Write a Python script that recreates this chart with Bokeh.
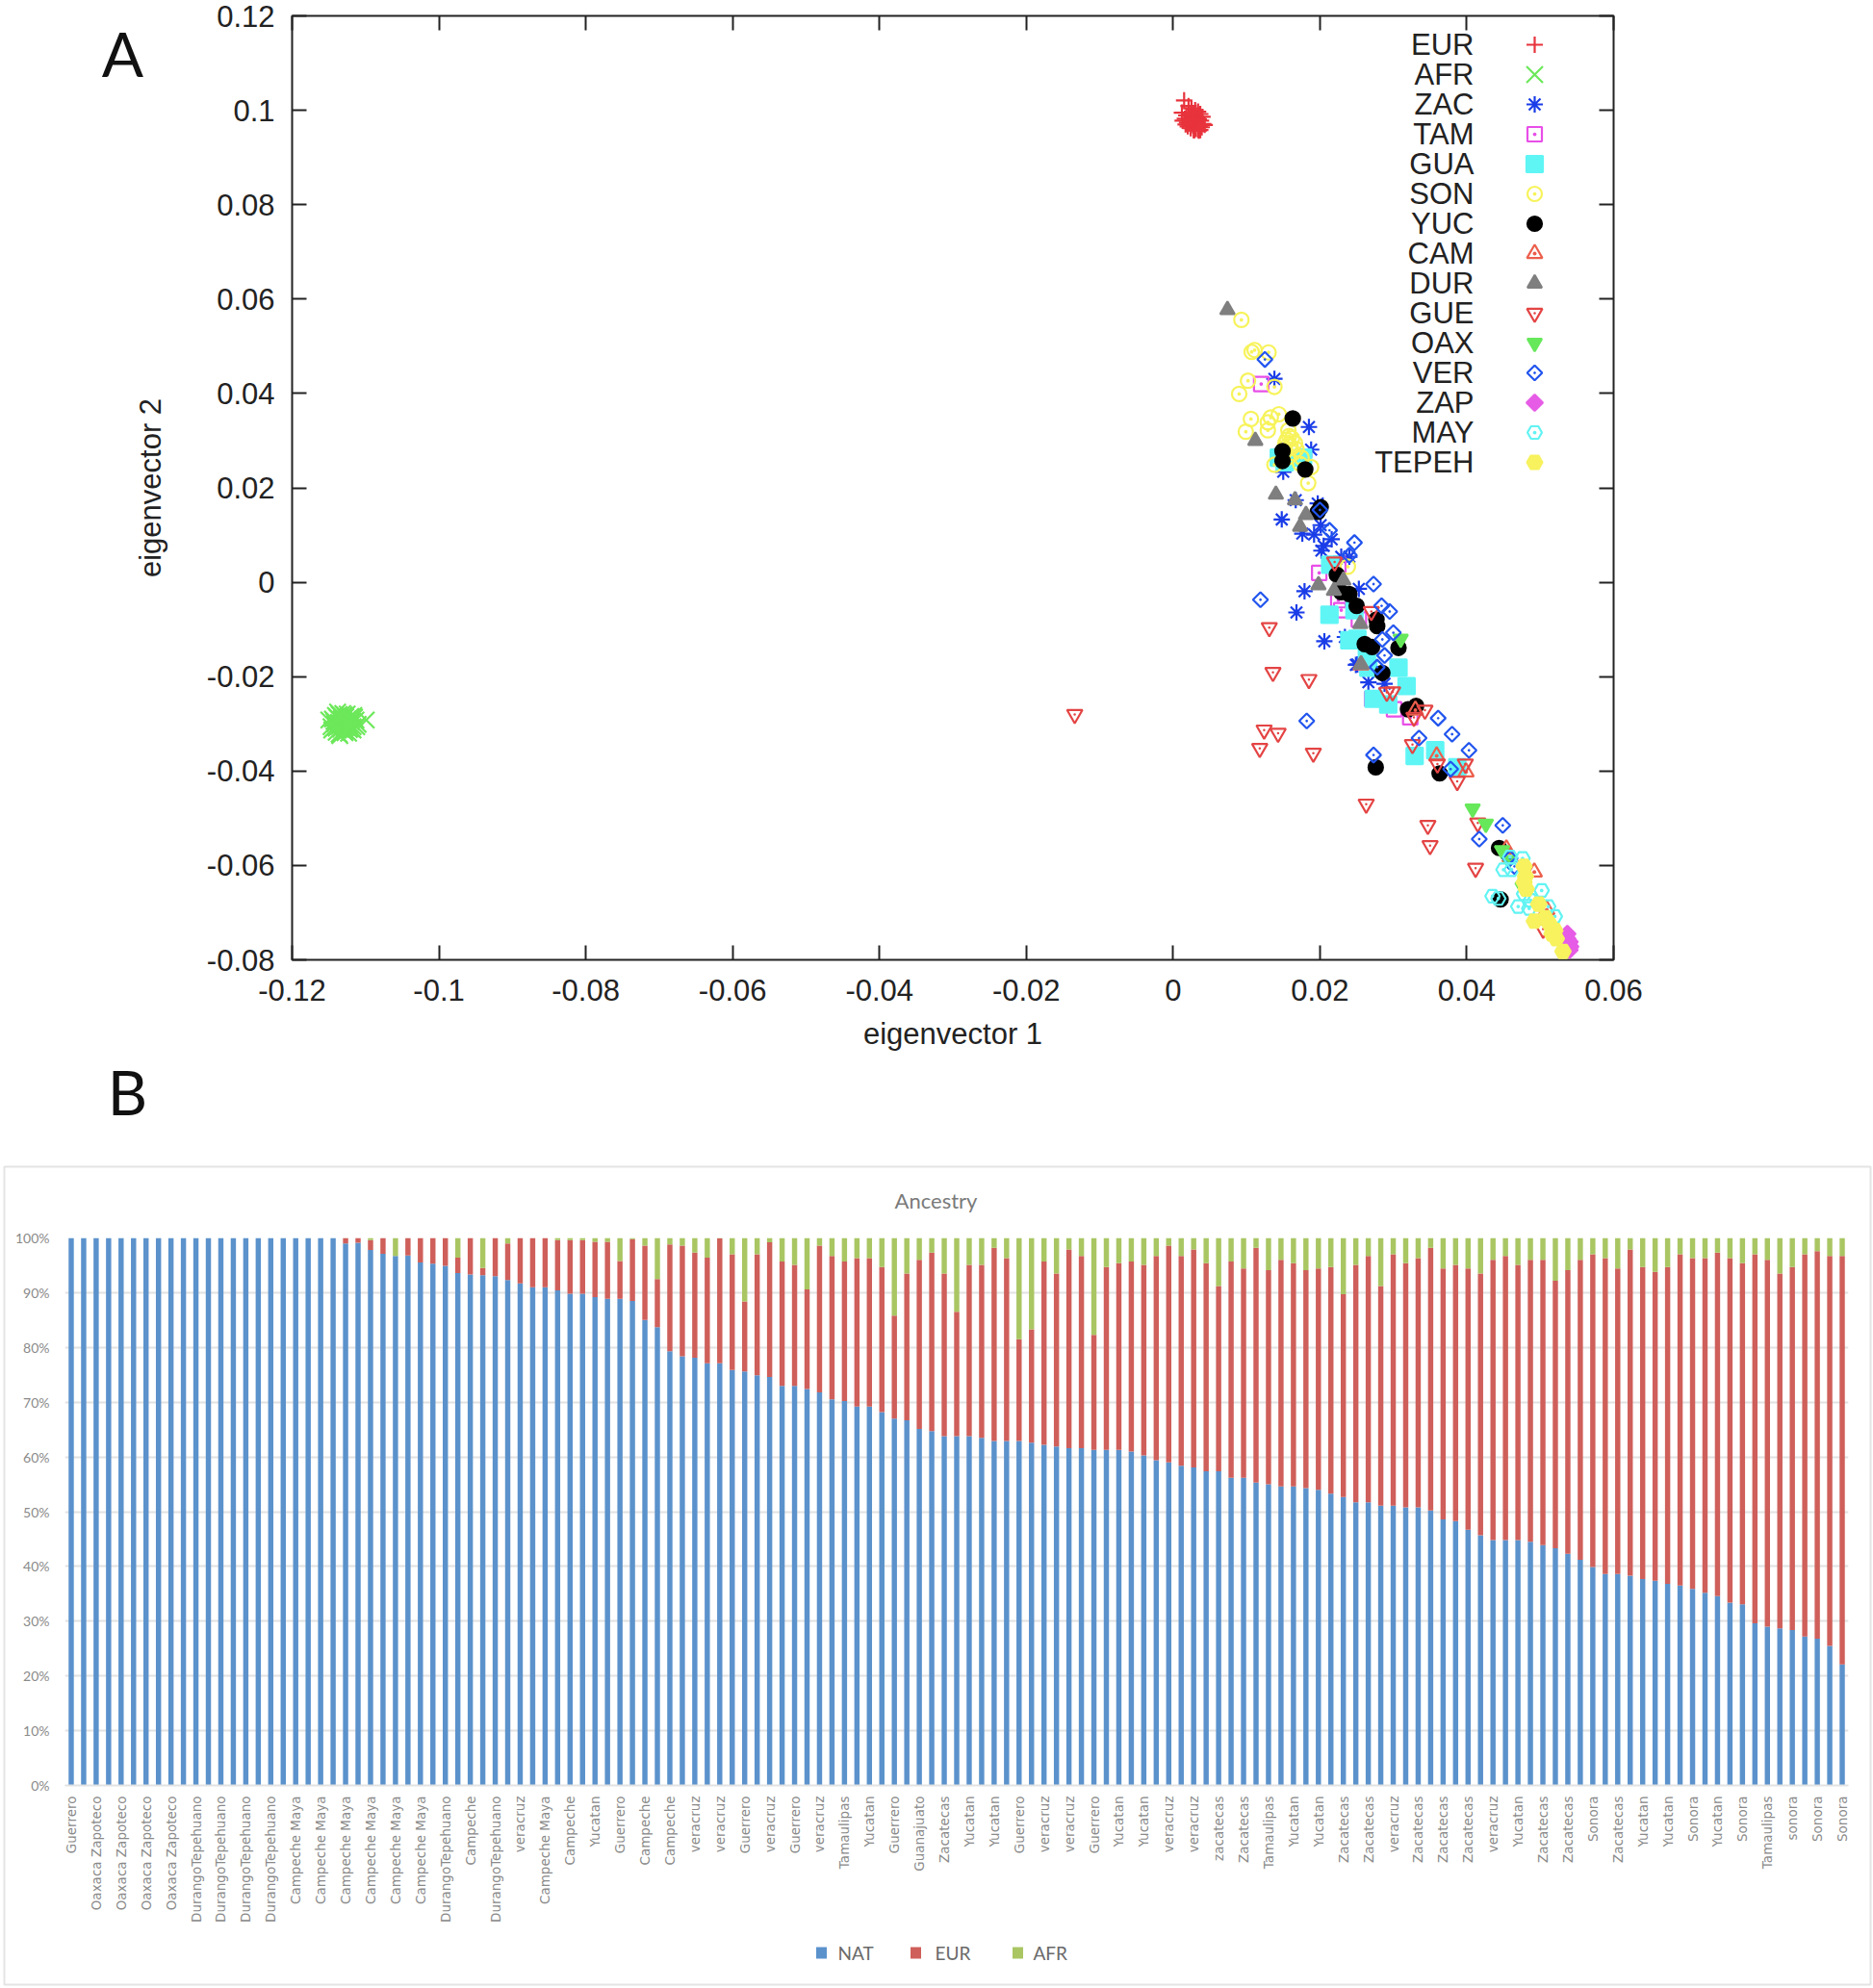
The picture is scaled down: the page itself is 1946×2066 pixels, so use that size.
from bokeh.plotting import figure
from bokeh.layouts import column
from bokeh.models import FixedTicker, LinearAxis, Label, Range1d
from bokeh.core.properties import value
from bokeh.embed import file_html
from bokeh.resources import INLINE
import math

# ---- panel A data (eigenvector 1, eigenvector 2) ----
eur_x = [.0015,.0021,.0012,.0018,.0025,.0030,.0016,.0022,.0028,.0034,.0013,.0019,.0026,.0031,.0037,.0017,.0023,.0029,.0035,.0040,.0020,.0027,.0033,.0038,.0024,.0030,.0036,.0041,.0022,.0028,.0034,.0039,.0026,.0032,.0037,.0043,.0029,.0035,.0031]
eur_y = [.1021,.1009,.0995,.0989,.1004,.1000,.0982,.0994,.0990,.0997,.0978,.0974,.0985,.0984,.0992,.0970,.0977,.0976,.0981,.0986,.0966,.0968,.0973,.0978,.0962,.0961,.0966,.0971,.0972,.0958,.0959,.0964,.0981,.0972,.0958,.0969,.0958,.0957,.0961]
afr_x = [-.1150,-.1146,-.1142,-.1139,-.1147,-.1143,-.1140,-.1136,-.1133,-.1145,-.1141,-.1137,-.1134,-.1130,-.1127,-.1140,-.1136,-.1132,-.1129,-.1125,-.1122,-.1136,-.1133,-.1128,-.1124,-.1120,-.1117,-.1131,-.1127,-.1123,-.1119,-.1115,-.1125,-.1121,-.1117,-.1113,-.1110,-.1120,-.1116,-.1112,-.1099,-.1135,-.1128,-.1138]
afr_y = [-.0292,-.0313,-.0300,-.0286,-.0306,-.0295,-.0318,-.0305,-.0289,-.0290,-.0282,-.0297,-.0311,-.0303,-.0285,-.0309,-.0322,-.0292,-.0281,-.0298,-.0312,-.0280,-.0300,-.0315,-.0290,-.0284,-.0306,-.0278,-.0308,-.0320,-.0296,-.0286,-.0279,-.0302,-.0313,-.0292,-.0301,-.0310,-.0282,-.0306,-.0292,-.0325,-.0319,-.0275]
zac_x = [.0138,.0185,.0188,.0150,.0167,.0197,.0148,.0201,.0176,.0192,.0216,.0205,.0202,.0229,.0240,.0179,.0253,.0168,.0206,.0234,.0249,.0266,.0288,.0251]
zac_y = [.0431,.0329,.0281,.0234,.0174,.0167,.0133,.0121,.0103,.0101,.0091,.0077,.0067,.0054,.0054,-.0019,-.0014,-.0064,-.0125,-.0116,-.0175,-.0212,-.0215,-.0174]
tam_x = [.0120,.0199,.0225,.0225,.0229,.0253,.0271,.0301,.0323]
tam_y = [.0420,.0020,.0037,-.0038,-.0059,-.0079,-.0247,-.0269,-.0286]
gua_x = [.0144,.0177,.0152,.0213,.0214,.0247,.0240,.0251,.0266,.0264,.0307,.0318,.0273,.0293,.0329,.0357,.0387]
gua_y = [.0264,.0264,.0254,-.0069,.0037,-.0059,-.0123,-.0120,-.0181,-.0160,-.0181,-.0220,-.0247,-.0259,-.0368,-.0356,-.0392]
son_x = [.0093,.0107,.0111,.0130,.0102,.0090,.0138,.0106,.0099,.0129,.0129,.0144,.0133,.0157,.0155,.0160,.0166,.0151,.0153,.0164,.0138,.0175,.0173,.0188,.0184,.0238,.0158,.0152,.0162,.0156,.0168]
son_y = [.0556,.0488,.0492,.0487,.0427,.0399,.0414,.0346,.0319,.0339,.0322,.0356,.0349,.0322,.0302,.0288,.0295,.0274,.0295,.0274,.0249,.0264,.0251,.0244,.0210,.0033,.0310,.0285,.0305,.0265,.0282]
yuc_x = [.0163,.0149,.0149,.0180,.0201,.0197,.0223,.0229,.0240,.0250,.0277,.0278,.0307,.0261,.0271,.0285,.0320,.0331,.0276,.0363,.0444,.0446]
yuc_y = [.0347,.0278,.0257,.0239,.0159,.0149,.0016,-.0021,-.0025,-.0050,-.0079,-.0093,-.0139,-.0131,-.0137,-.0192,-.0269,-.0262,-.0392,-.0405,-.0563,-.0672]
cam_x = [.0256,.0330,.0359,.0399,.0454,.0459,.0492,.0509]
cam_y = [-.0175,-.0271,-.0368,-.0402,-.0565,-.0582,-.0614,-.0694]
dur_x = [.0074,.0112,.0140,.0166,.0181,.0173,.0198,.0219,.0232,.0255,.0256]
dur_y = [.0577,.0300,.0186,.0174,.0143,.0118,-.0006,-.0018,.0004,-.0088,-.0174]
gue_x = [-.0134,.0131,.0220,.0270,.0136,.0185,.0291,.0299,.0124,.0143,.0118,.0191,.0326,.0328,.0343,.0360,.0398,.0387,.0263,.0347,.0350,.0412,.0415,.0504]
gue_y = [-.0280,-.0096,.0043,-.0062,-.0191,-.0206,-.0233,-.0232,-.0313,-.0320,-.0352,-.0362,-.0344,-.0286,-.0271,-.0385,-.0385,-.0422,-.0470,-.0515,-.0558,-.0606,-.0510,-.0735]
oax_x = [.0310,.0408,.0426,.0448,.0457,.0476]
oax_y = [-.0120,-.0480,-.0512,-.0568,-.0589,-.0646]
ver_x = [.0125,.0200,.0213,.0247,.0240,.0273,.0119,.0284,.0295,.0300,.0285,.0288,.0278,.0182,.0273,.0335,.0361,.0380,.0403,.0378,.0449,.0417,.0465,.0459]
ver_y = [.0472,.0153,.0110,.0084,.0057,-.0004,-.0037,-.0050,-.0062,-.0107,-.0121,-.0155,-.0180,-.0294,-.0366,-.0330,-.0288,-.0322,-.0356,-.0396,-.0515,-.0544,-.0602,-.0585]
zap_x = [.0537,.0540,.0540,.0537,.0541]
zap_y = [-.0745,-.0762,-.0779,-.0755,-.0772]
may_x = [.0450,.0461,.0476,.0459,.0502,.0435,.0443,.0470,.0478,.0487,.0485,.0511,.0520]
may_y = [-.0609,-.0609,-.0585,-.0582,-.0653,-.0665,-.0670,-.0687,-.0660,-.0674,-.0691,-.0687,-.0708]
tepeh_x = [.0478,.0480,.0478,.0481,.0498,.0492,.0507,.0513,.0520,.0522,.0531,.0516]
tepeh_y = [-.0602,-.0623,-.0636,-.0650,-.0682,-.0718,-.0711,-.0725,-.0738,-.0755,-.0782,-.0745]

x_ticks = [-0.12,-0.1,-0.08,-0.06,-0.04,-0.02,0,0.02,0.04,0.06]
x_tick_labels = ["-0.12","-0.1","-0.08","-0.06","-0.04","-0.02","0","0.02","0.04","0.06"]
y_ticks = [-0.08,-0.06,-0.04,-0.02,0,0.02,0.04,0.06,0.08,0.1,0.12]
y_tick_labels = ["-0.08","-0.06","-0.04","-0.02","0","0.02","0.04","0.06","0.08","0.1","0.12"]

# ---- panel B data (percent) ----
nat = [100]*22 + [99,99.1,97.8,97.1,96.7,96.8,95.5,95.3,94.9,93.6,93.3,93.2,93,92.3,91.7,91,91,90.4,89.8,89.8,89.2,88.9,88.9,
 88.5,85,83.7,79.3,78.4,78.1,77.1,77.1,75.9,75.6,74.9,74.6,73,73,72.4,71.8,70.5,70.2,69.2,69.2,68.2,67,66.7,65.1,64.7,63.8,63.8,63.8,63.5,62.9,62.9,62.9,62.6,62.2,61.9,61.6,61.6,61.3,61.3,61.3,61,60.3,59.4,59,58.4,58.1,57.4,57.4,56.2,56.2,
 55.3,55,54.6,54.6,54.3,54,53.3,52.7,51.7,51.7,51.1,51.1,50.8,50.8,50.2,48.6,48.3,46.7,45.7,44.8,44.8,44.8,44.5,43.9,43.3,42.3,41.2,39.9,38.6,38.6,38.3,37.7,37.4,36.8,36.5,35.9,35.2,34.6,33.4,33.1,29.6,29,28.7,28.4,27.2,26.8,25.5,22.1]
afr = [0]*22 + [0,0,.4,0,3.3,0,0,0,0,3.6,0,5.5,0,1,0,0,0,.4,.4,.4,.7,.7,4.2,
 .2,1.4,7.5,1.2,1.4,2.7,3.6,.1,3,11.6,3,.8,4.3,4.9,9.4,1.4,3.3,4.3,3.7,3.7,5.3,14.2,6.5,4,2.7,6.5,13.5,4.9,4.9,1.8,3.7,18.5,16.7,4.3,6.5,2.1,3.3,17.7,5.3,4.6,4.3,4.9,3.3,1.4,3.3,2.1,4.6,8.8,4.3,5.6,
 1.8,5.9,4,4.6,5.9,5.6,5.3,10.3,4.9,3.3,8.8,3,4.6,3.7,1.8,5.6,4.9,5.6,6.5,4,3.3,4.9,4,4,7.8,5.9,4,3,3.7,5.6,2.1,5.3,6.2,5.3,3,3.7,3.7,2.7,3.7,4.6,3,4,6.5,5.3,3,2.4,3.3,3.3]
eur = [round(100 - n - a, 1) for n, a in zip(nat, afr)]
bar_labels = ["Guerrero"] + ["Oaxaca Zapoteco"]*4 + ["DurangoTepehuano"]*4 + ["Campeche Maya"]*6 + ["DurangoTepehuano","Campeche","DurangoTepehuano","veracruz","Campeche Maya","Campeche","Yucatan","Guerrero","Campeche","Campeche",
 "veracruz","veracruz","Guerrero","veracruz","Guerrero","veracruz","Tamaulipas","Yucatan","Guerrero","Guanajuato","Zacatecas","Yucatan","Yucatan","Guerrero","veracruz","veracruz","Guerrero","Yucatan","Yucatan","veracruz","veracruz","zacatecas","Zacatecas","Tamaulipas","Yucatan","Yucatan","Zacatecas",
 "Zacatecas","veracruz","Zacatecas","Zacatecas","Zacatecas","veracruz","Yucatan","Zacatecas","Zacatecas","Sonora","Zacatecas","Yucatan","Yucatan","Sonora","Yucatan","Sonora","Tamaulipas","sonora","Sonora","Sonora"]
legend_names = ["NAT", "EUR", "AFR"]
legend_colors = ["#5b92cc", "#cf5f5a", "#a9c663"]

W, H = 1946, 2066
H1, H2 = 1208, 858
L1, R1, T1, B1 = 303, 1676, 16, 997
L2, R2, T2, B2 = 67, 1920, 1286, 1855
INK = "#222222"
SANS = "Liberation Sans"

def ax(px): return -0.12 + (px - L1) / (R1 - L1) * 0.18
def ay(py): return 0.12 - (py - T1) / (B1 - T1) * 0.2

p1 = figure(width=W, height=H1, output_backend="svg", toolbar_location=None,
            x_range=Range1d(-0.12, 0.06), y_range=Range1d(-0.08, 0.12),
            min_border_left=L1, min_border_right=W-R1, min_border_top=T1, min_border_bottom=H1-B1,
            x_axis_label="eigenvector 1", y_axis_label="eigenvector 2", frame_align=False)
p1.grid.visible = False
p1.outline_line_color = INK
p1.outline_line_width = 2

def style_axis(a, ticks, labels):
    a.ticker = FixedTicker(ticks=ticks)
    a.major_label_overrides = {t: s for t, s in zip(ticks, labels)}
    a.major_tick_in = 15
    a.major_tick_out = 0
    a.minor_tick_in = 0
    a.minor_tick_out = 0
    a.major_tick_line_color = INK
    a.major_tick_line_width = 2
    a.axis_line_color = None
    a.major_label_text_font = SANS
    a.major_label_text_font_size = "31px"
    a.major_label_text_color = INK
    a.axis_label_text_font = SANS
    a.axis_label_text_font_size = "31px"
    a.axis_label_text_font_style = "normal"
    a.axis_label_text_color = INK

style_axis(p1.xaxis[0], x_ticks, x_tick_labels)
style_axis(p1.yaxis[0], y_ticks, y_tick_labels)
p1.xaxis[0].major_label_standoff = 20
p1.xaxis[0].axis_label_standoff = 14
p1.yaxis[0].major_label_standoff = 18
p1.yaxis[0].axis_label_standoff = 38
p1.yaxis[0].major_label_orientation = "horizontal"
for side, ticks in (("above", x_ticks), ("right", y_ticks)):
    a = LinearAxis(ticker=FixedTicker(ticks=ticks), major_tick_in=15, major_tick_out=0, minor_tick_in=0,
                   minor_tick_out=0, major_tick_line_color=INK, major_tick_line_width=2, axis_line_color=None,
                   major_label_text_font_size="1px", major_label_text_color=None, major_label_standoff=0)
    p1.add_layout(a, side)

series = [
    ("EUR", eur_x, eur_y, "cross", 17, "#e8333c", False, 0),
    ("AFR", afr_x, afr_y, "x", 24, "#6ce85a", False, 0),
    ("ZAC", zac_x, zac_y, "asterisk", 17, "#1a3de8", False, 0),
    ("TAM", tam_x, tam_y, "square_dot", 15, "#e84fe8", False, 0),
    ("GUA", gua_x, gua_y, "square", 17, "#5ff5f5", True, 0),
    ("SON", son_x, son_y, "circle_dot", 15, "#f7f35a", False, 0),
    ("YUC", yuc_x, yuc_y, "circle", 15, "#000000", True, 0),
    ("CAM", cam_x, cam_y, "triangle_dot", 16, "#ec5f4c", False, 0),
    ("DUR", dur_x, dur_y, "triangle", 15, "#7f7f7f", True, 0),
    ("GUE", gue_x, gue_y, "inverted_triangle", 16, "#e44444", False, 0),
    ("OAX", oax_x, oax_y, "inverted_triangle", 15, "#66e85a", True, 0),
    ("VER", ver_x, ver_y, "square_dot", 11, "#2255ee", False, math.pi/4),
    ("ZAP", zap_x, zap_y, "square", 12, "#e65ce6", True, math.pi/4),
    ("MAY", may_x, may_y, "hex_dot", 15, "#62f3f3", False, 0),
    ("TEPEH", tepeh_x, tepeh_y, "hex", 16, "#f7f25e", True, 0),
]

def draw(xs, ys, marker, size, color, filled, angle):
    p1.scatter(xs, ys, marker=marker, size=size, angle=angle, line_color=color, line_width=2.2,
               fill_color=color if filled else None)
    if marker == "inverted_triangle" and not filled:
        p1.scatter(xs, ys, marker="dot", size=10, line_color=color, line_width=1.5)

for name, xs, ys, marker, size, color, filled, angle in series:
    draw(xs, ys, marker, size, color, filled, angle)

# key: names right-aligned, marks in a column
for i, (name, xs, ys, marker, size, color, filled, angle) in enumerate(series):
    py = 46 + i * 31.0
    draw([ax(1594)], [ay(py)], marker, size, color, filled, angle)
    p1.add_layout(Label(x=ax(1531), y=ay(py), text=name, text_align="right", text_baseline="middle",
                        text_font=SANS, text_font_size="31px", text_color=INK))

# ---- panel B ----
idx = list(range(143))
p2 = figure(width=W, height=H2, output_backend="svg", toolbar_location=None,
            x_range=Range1d(-0.5, 142.5), y_range=Range1d(0, 100), frame_align=False,
            min_border_left=L2, min_border_right=W-R2, min_border_top=T2-H1, min_border_bottom=H1+H2-B2)
p2.outline_line_color = None
p2.xgrid.visible = False
p2.ygrid.ticker = FixedTicker(ticks=list(range(0, 101, 10)))
p2.ygrid.grid_line_color = "#e2e2e2"
p2.ygrid.grid_line_width = 2

data = dict(idx=idx, NAT=nat, EUR=eur, AFR=afr)
rs = p2.vbar_stack(legend_names, x="idx", width=0.42, source=data, color=legend_colors, line_width=0)
GRAY = "#8a8a8a"
xa, ya = p2.xaxis[0], p2.yaxis[0]
xa.ticker = FixedTicker(ticks=list(range(0, 143, 2)))
xa.major_label_overrides = {i*2: s for i, s in enumerate(bar_labels)}
xa.major_label_orientation = math.pi/2
xa.major_label_text_font = "DejaVu Sans"
xa.major_label_text_font_size = "13.5px"
xa.major_label_text_color = GRAY
xa.major_label_standoff = 5
xa.major_tick_line_color = None
xa.minor_tick_line_color = None
xa.axis_line_color = "#e2e2e2"
xa.axis_line_width = 2
ya.ticker = FixedTicker(ticks=list(range(0, 101, 10)))
ya.major_label_overrides = {i: f"{i}%" for i in range(0, 101, 10)}
ya.major_label_text_font = "Lato"
ya.major_label_text_font_size = "14px"
ya.major_label_text_color = GRAY
ya.major_label_standoff = 10
ya.major_tick_line_color = None
ya.minor_tick_line_color = None
ya.axis_line_color = None

# ---- page layer: panel letters, chart title, key and chart border, in page pixels ----
p0 = figure(width=W, height=H, output_backend="svg", toolbar_location=None,
            x_range=Range1d(0, W), y_range=Range1d(H, 0), min_border=0,
            x_axis_location=None, y_axis_location=None, frame_align=False,
            background_fill_color=None, border_fill_color=None, outline_line_color=None,
            margin=(-H, 0, 0, 0))
p0.grid.visible = False
p0.quad(left=[4], right=[1943], top=[1212], bottom=[2062], fill_color=None, line_color="#e4e4e4", line_width=2)
p0.text(x=[127, 132], y=[55, 1134], text=["A", "B"], text_align="center", text_baseline="middle",
        text_font=value("Lato"), text_font_size=value("64px"), text_color="#111111")
p0.text(x=[972], y=[1247], text=["Ancestry"], text_align="center", text_baseline="middle",
        text_font=value("Lato"), text_font_size=value("22px"), text_color="#7a7a7a")
p0.rect(x=[853, 951, 1057], y=[2029]*3, width=11, height=12, color=legend_colors, line_width=0)
p0.text(x=[870, 971, 1073], y=[2029]*3, text=legend_names, text_align="left", text_baseline="middle",
        text_font=value("Lato"), text_font_size=value("19px"), text_color="#6a6a6a")

page = column(p1, p2, p0, spacing=0)
open("out.html", "w").write(file_html(page, INLINE))
